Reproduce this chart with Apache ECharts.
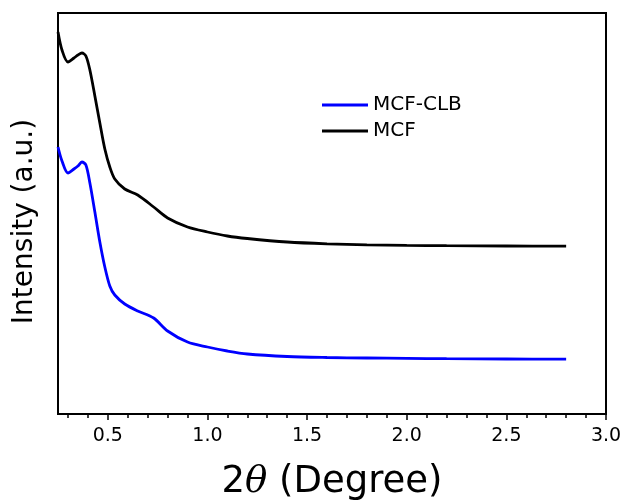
<!DOCTYPE html>
<html>
<head>
<meta charset="utf-8">
<script src="https://cdn.jsdelivr.net/npm/echarts@6/dist/echarts.min.js"></script>
<style>
  html, body { margin: 0; padding: 0; background: #fff; }
  #chart { width: 623px; height: 501px; }
</style>
</head>
<body>
<div id="chart"></div>
<script>
// 2theta values (degree)
const twoTheta = [0.25, 0.27, 0.30, 0.33, 0.35, 0.37, 0.39, 0.41, 0.435, 0.46, 0.485, 0.51, 0.535,
  0.585, 0.65, 0.73, 0.80, 0.90, 1.0, 1.1, 1.2, 1.4, 1.6, 1.8, 2.0, 2.2, 2.5, 2.8]
// intensity (a.u.)
const mcf = [382, 364, 352, 356, 359, 361, 358, 344, 318, 291, 265, 247, 235,
  225, 219, 207, 196, 187, 182, 178, 175.5, 172, 170.2, 169.2, 168.6, 168.3, 168, 167.8]
const mcfClb = [267, 253, 241, 245, 248, 252, 249, 231, 202, 172, 147, 128, 119,
  110, 103, 96, 83, 72, 67, 63, 60, 57.5, 56.5, 56, 55.6, 55.3, 55, 54.8]

const majorTicks = [0.5, 1.0, 1.5, 2.0, 2.5, 3.0]
const minorTicks = [0.3, 0.4, 0.6, 0.7, 0.8, 0.9, 1.1, 1.2, 1.3, 1.4, 1.6, 1.7, 1.8, 1.9,
  2.1, 2.2, 2.3, 2.4, 2.6, 2.7, 2.8, 2.9]

const pairs = (xs, ys) => xs.map((x, i) => [x, ys[i]])

const chart = echarts.init(document.getElementById('chart'))
const font = 'DejaVu Sans'

chart.setOption({
  backgroundColor: '#ffffff',
  animation: false,
  textStyle: { fontFamily: font },
  grid: {
    left: 58,
    right: 17,
    top: 13,
    bottom: 87,
    outerBoundsMode: 'none',
    show: true,
    borderColor: '#000',
    borderWidth: 2
  },
  legend: {
    orient: 'vertical',
    left: 317,
    top: 90,
    icon: 'rect',
    itemWidth: 46,
    itemHeight: 3,
    itemGap: 6,
    textStyle: { fontSize: 20, color: '#000', fontFamily: font },
    data: ['MCF-CLB', 'MCF']
  },
  xAxis: [{
    type: 'value',
    min: 0.25,
    max: 3.0,
    name: '2{th|θ} (Degree)',
    nameLocation: 'middle',
    nameGap: 50,
    nameTextStyle: {
      fontSize: 37,
      color: '#000',
      fontFamily: font,
      rich: {
        th: { fontSize: 37, fontStyle: 'italic', fontFamily: 'DejaVu Serif', color: '#000' }
      }
    },
    axisLine: { show: true, lineStyle: { color: '#000', width: 2 } },
    axisTick: { show: true, length: 6, customValues: majorTicks, lineStyle: { color: '#000', width: 1.5 } },
    axisLabel: {
      customValues: majorTicks,
      fontSize: 19,
      color: '#000',
      margin: 13,
      formatter: v => v.toFixed(1)
    },
    splitLine: { show: false }
  }, {
    // minor ticks only
    type: 'value',
    position: 'bottom',
    min: 0.25,
    max: 3.0,
    axisLine: { show: false },
    axisTick: { show: true, length: 4, customValues: minorTicks, lineStyle: { color: '#000', width: 1.5 } },
    axisLabel: { show: false },
    splitLine: { show: false }
  }],
  yAxis: {
    type: 'value',
    min: 0,
    max: 401,
    name: 'Intensity (a.u.)',
    nameLocation: 'middle',
    nameGap: 19,
    nameTextStyle: { fontSize: 28, color: '#000', fontFamily: font, padding: [0, 16, 0, 0] },
    axisLine: { show: true, lineStyle: { color: '#000', width: 2 } },
    axisTick: { show: false },
    axisLabel: { show: false },
    splitLine: { show: false }
  },
  series: [
    {
      name: 'MCF-CLB',
      type: 'line',
      data: pairs(twoTheta, mcfClb),
      smooth: 0.3,
      symbol: 'none',
      lineStyle: { color: '#0000ff', width: 2.8 },
      itemStyle: { color: '#0000ff' }
    },
    {
      name: 'MCF',
      type: 'line',
      data: pairs(twoTheta, mcf),
      smooth: 0.3,
      symbol: 'none',
      lineStyle: { color: '#000000', width: 2.8 },
      itemStyle: { color: '#000000' }
    }
  ]
})
</script>
</body>
</html>
